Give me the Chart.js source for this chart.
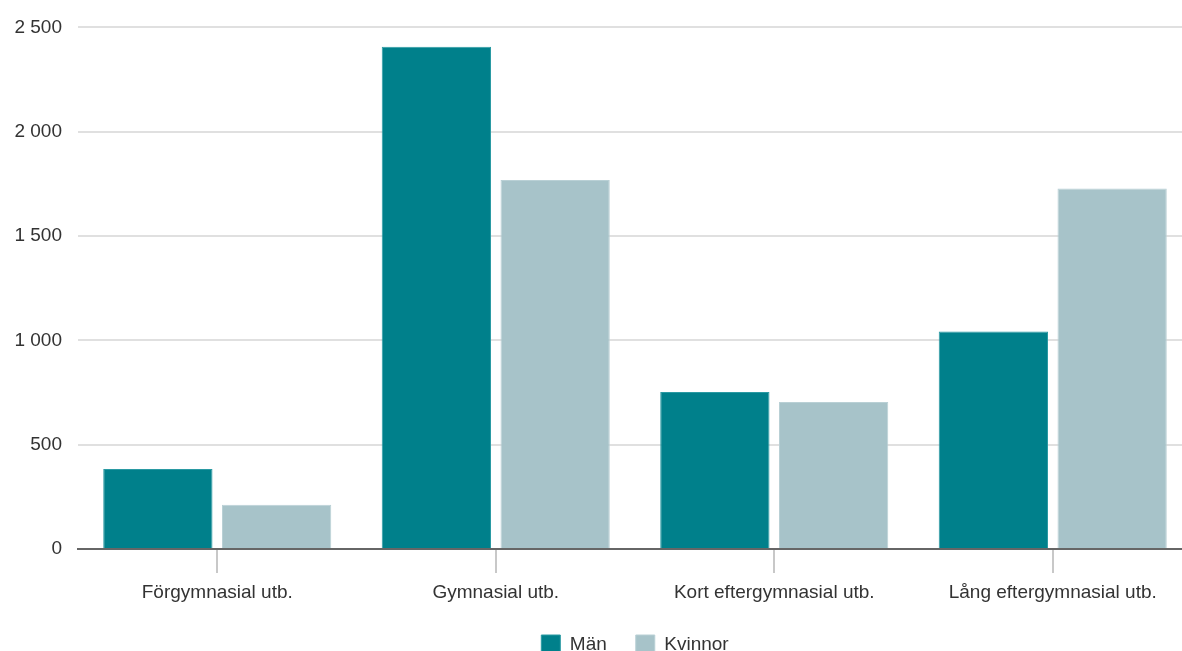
<!DOCTYPE html>
<html>
<head>
<meta charset="utf-8">
<script src="https://cdn.jsdelivr.net/npm/chart.js@4/dist/chart.umd.min.js"></script>
<style>
  html, body { margin: 0; padding: 0; background: #fff; overflow: hidden; }
  #wrap { position: relative; width: 1192px; height: 664px; }
</style>
</head>
<body>
<div id="wrap"><canvas id="chart_1"></canvas></div>
<script>
// Data
var categories = ['Förgymnasial utb.', 'Gymnasial utb.', 'Kort eftergymnasial utb.', 'Lång eftergymnasial utb.']
var man = [383, 2407, 752, 1043]
var kvinnor = [212, 1769, 704, 1728]
var yTicks = [0, 500, 1000, 1500, 2000, 2500]

function fmt(v) {
    return String(v).replace(/\B(?=(\d{3})+(?!\d))/g, ' ')
}

Chart.defaults.font.family = '"Liberation Sans", Arial, sans-serif'
Chart.defaults.color = '#333'

const ctx = document.getElementById('chart_1').getContext('2d')
const chart = new Chart(ctx, {
    type: 'bar',
    data: {
        labels: categories,
        datasets: [{
            label: 'Män',
            data: man,
            backgroundColor: '#00808b',
            borderColor: '#2a9aa3',
            borderWidth: 1,
            categoryPercentage: 0.853,
            barPercentage: 0.92
        }, {
            label: 'Kvinnor',
            data: kvinnor,
            backgroundColor: '#a7c3c9',
            borderColor: '#b9d0d5',
            borderWidth: 1,
            categoryPercentage: 0.853,
            barPercentage: 0.92
        }]
    },
    options: {
        responsive: true,
        maintainAspectRatio: false,
        animation: false,
        layout: { padding: { top: 21, right: 0, left: 0, bottom: 0 } },
        plugins: {
            tooltip: { enabled: false },
            legend: {
                position: 'bottom',
                fullSize: false,
                labels: {
                    boxWidth: 19,
                    boxHeight: 19,
                    padding: 29,
                    font: { size: 19 },
                    color: '#333'
                }
            }
        },
        scales: {
            x: {
                afterFit: function (axis) { axis.height = 57 },
                grid: {
                    offset: false,
                    drawOnChartArea: false,
                    color: '#c8c8c8',
                    lineWidth: 2,
                    tickLength: 24
                },
                border: { color: '#666', width: 2 },
                ticks: { font: { size: 19 }, color: '#333', padding: 8, maxRotation: 0 }
            },
            y: {
                min: 0,
                max: 2500,
                afterBuildTicks: function (axis) {
                    axis.ticks = yTicks.map(function (v) { return { value: v } })
                },
                afterFit: function (axis) { axis.width = 78 },
                grid: { color: '#e0e0e0', lineWidth: 2, drawTicks: false },
                border: { display: false },
                ticks: {
                    font: { size: 19 },
                    color: '#333',
                    padding: 16,
                    callback: function (v) { return fmt(v) }
                }
            }
        }
    }
})
</script>
</body>
</html>
